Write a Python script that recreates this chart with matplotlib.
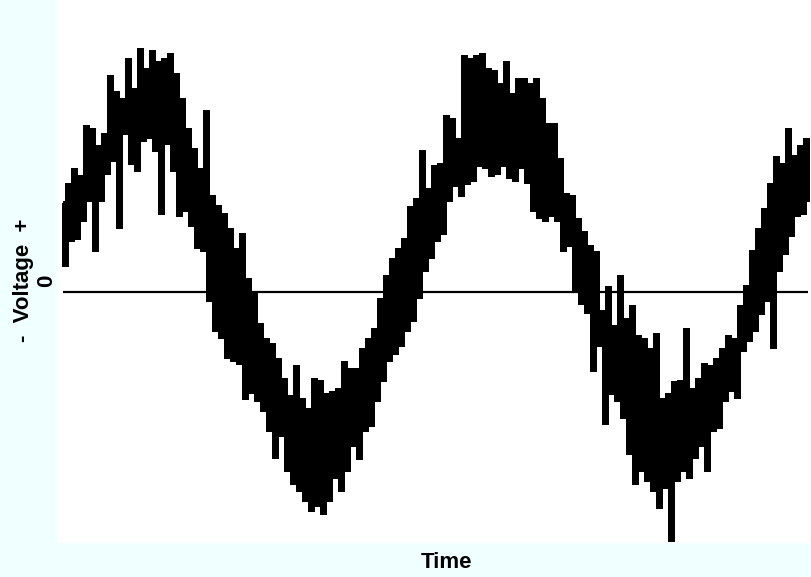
import numpy as np
import matplotlib
matplotlib.use("Agg")
import matplotlib.pyplot as plt

# noisy voltage trace, one sample per time step (zero line = 0)
voltage = [
    89, 27, 107, 52, 122, 54, 115, 72, 165, 92,
    162, 42, 145, 92, 157, 119, 215, 132, 199, 65,
    192, 159, 232, 129, 202, 122, 242, 152, 222, 155,
    240, 142, 229, 79, 232, 149, 237, 122, 217, 77,
    192, 82, 162, 67, 142, 45, 122, 42, 180, -8,
    95, -38, 85, -45, 77, -65, 62, -68, 42, -71,
    57, -106, 12, -100, -1, -108, -33, -118, -48, -138,
    -53, -165, -68, -143, -88, -178, -105, -191, -75, -198,
    -108, -208, -118, -218, -88, -213, -90, -221, -103, -208,
    -101, -185, -98, -198, -71, -178, -78, -153, -78, -166,
    -58, -138, -48, -133, -38, -108, -8, -88, 15, -68,
    32, -61, 42, -53, 52, -38, 84, -28, 92, -5,
    140, 22, 102, 35, 125, 52, 127, 59, 175, 92,
    172, 107, 152, 97, 235, 109, 232, 112, 235, 127,
    237, 125, 222, 117, 220, 119, 207, 127, 229, 115,
    197, 112, 212, 125, 212, 110, 207, 82, 212, 75,
    192, 72, 167, 77, 167, 72, 132, 42, 97, 47,
    95, 2, 72, -11, 59, -20, 45, -78, 39, -53,
    -20, -131, 4, -101, -35, -108, 15, -125, -28, -161,
    -15, -191, -45, -178, -48, -188, -58, -198, -43, -215,
    -108, -195, -103, -248, -91, -188, -90, -178, -38, -185,
    -98, -165, -88, -153, -73, -178, -75, -138, -68, -135,
    -58, -108, -45, -98, -48, -105, -15, -58, 5, -48,
    40, -38, 62, -21, 82, -8, 107, -55, 134, 22,
    127, 39, 162, 57, 135, 77, 145, 79, 152, 92,
]
time = np.arange(len(voltage))

fig = plt.figure(figsize=(8.12, 5.77), dpi=100, facecolor="#F0FFFF")
ax = fig.add_axes([57 / 812, 1 - 543 / 577, 1 - 57 / 812, 543 / 577])
ax.set_facecolor("white")

ax.plot(time, voltage, color="black", lw=1.45, drawstyle="steps-mid",
        solid_capstyle="butt", solid_joinstyle="miter", antialiased=False)
ax.hlines(0, time[0], time[-1] - 0.5, color="black", lw=1.6)

ax.set_xlim(-2, 249.7)
ax.set_ylim(-251, 292)
ax.set_xticks([])
ax.set_yticks([])
for s in ax.spines.values():
    s.set_visible(False)

font = dict(family=["Liberation Sans", "DejaVu Sans"], fontweight="bold", fontsize=16)
fig.text(447 / 812, 1 - 563 / 577, "Time", ha="center", va="center", **font)
fig.text(24 / 812, 1 - 280 / 577, "-  Voltage  +", rotation=90, ha="center", va="center", **font)
fig.text(47 / 812, 1 - 281 / 577, "0", rotation=90, ha="center", va="center", **font)

fig.savefig("out.png", dpi=100, facecolor=fig.get_facecolor())
